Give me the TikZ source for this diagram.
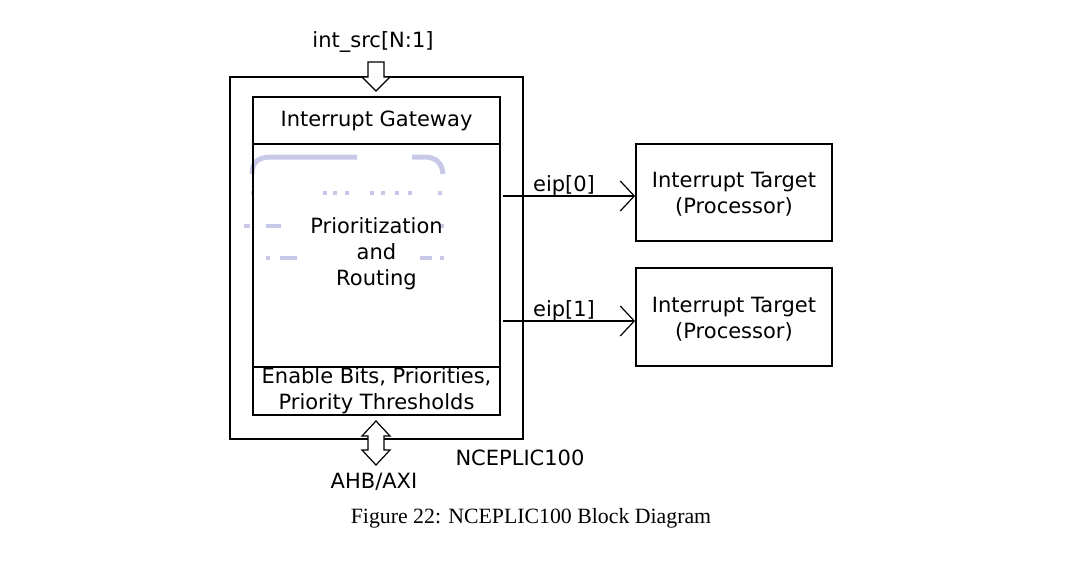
\documentclass[tikz,border=0pt]{standalone}
\usepackage{fontspec}
\newfontfamily\dvs{DejaVu Sans}
\newfontfamily\capf{Liberation Serif}
\definecolor{wmcol}{RGB}{200,200,233}
\tikzset{
  lbl/.style={font=\dvs\fontsize{21}{26}\selectfont, inner sep=0pt, align=center},
  blk/.style={draw, line width=1.8pt, inner sep=0pt, lbl},
  outerbox/.style={draw, line width=1.2pt, inner sep=0pt},
  sig/.style={line width=1.2pt, -{Straight Barb[length=14pt,width=30pt,line width=1.2pt]}},
  hollow/.style={draw, line width=1.2pt, fill=white, line join=miter},
  wm/.style={draw=wmcol, line width=5pt},
}
\usetikzlibrary{arrows.meta}
\begin{document}
\begin{tikzpicture}[x=1pt,y=-1pt]
\useasboundingbox (0,0) rectangle (1068,573);
% faint watermark
\draw[wm] (252,174) .. controls (252,162) and (258,157) .. (272,157) -- (357,157);
\draw[wm] (412,157) -- (424,157) .. controls (436,157) and (442,163) .. (443,174);
\draw[draw=wmcol, line width=4pt] (251,193) -- (254,193) (323,193) -- (327,193) (333,193) -- (337,193) (345,193) -- (349,193)
  (370,193) -- (374,193) (381,193) -- (385,193) (395,193) -- (399,193) (408,193) -- (412,193) (438,193) -- (442,193);
\draw[draw=wmcol, line width=4pt] (244,226) -- (250,226) (266,226) -- (281,226) (440,226) -- (444,226);
\draw[draw=wmcol, line width=4pt] (266,258) -- (270,258) (280,258) -- (297,258) (420,258) -- (432,258) (440,258) -- (444,258);
% blocks
\node[outerbox, minimum width=293pt, minimum height=362pt] (outer) at (376.5,258) {};
\node[blk, minimum width=247pt, minimum height=47pt] (gw) at (376.5,120.5) {};
\node[lbl] (gwt) at (376.5,121) {Interrupt Gateway};
\node[blk, minimum width=247pt, minimum height=223pt] (pr) at (376.5,255.5) {};
\node[lbl] (prt) at (376.5,254) {Prioritization\\and\\Routing};
\node[blk, minimum width=247pt, minimum height=48pt] (en) at (376.5,391) {};
\node[lbl] (ent) at (376.5,391) {Enable Bits, Priorities,\\Priority Thresholds};
\node[blk, minimum width=196pt, minimum height=97pt] (t0) at (734,192.5) {};
\node[lbl] (t0t) at (734,194.5) {Interrupt Target\\(Processor)};
\node[blk, minimum width=196pt, minimum height=98pt] (t1) at (734,317) {};
\node[lbl] (t1t) at (734,319) {Interrupt Target\\(Processor)};
% outputs
\coordinate (s0) at (503,196);
\coordinate (s1) at (503,321);
\draw[sig] (s0) -- (s0 -| t0.west);
\draw[sig] (s1) -- (s1 -| t1.west);
\node[lbl] (e0) at (564,186) {eip[0]};
\node[lbl] (e1) at (564,311) {eip[1]};
% input hollow arrow
\node[lbl] (src) at (373,42) {int\_src[N:1]};
\draw[hollow] (368,62) -- (384,62) -- (384,77) -- (390,77) -- (376,91) -- (362,77) -- (368,77) -- cycle;
% bus double arrow
\draw[hollow] (376,421) -- (390,436) -- (384,436) -- (384,450) -- (390,450) -- (376,465) -- (362,450) -- (368,450) -- (368,436) -- (362,436) -- cycle;
\node[lbl] (bus) at (374,482) {AHB/AXI};
\node[lbl] (name) at (520,458) {NCEPLIC100};
\node[inner sep=0pt, font=\capf\fontsize{21.8}{26}\selectfont] (cap) at (531,518) {Figure 22: NCEPLIC100 Block Diagram};
\end{tikzpicture}
\end{document}
